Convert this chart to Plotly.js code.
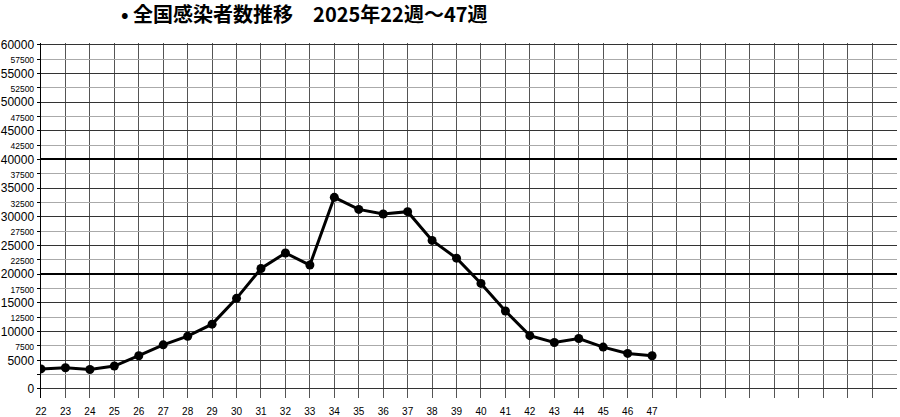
<!DOCTYPE html>
<html>
<head>
<meta charset="utf-8">
<script src="https://cdn.plot.ly/plotly-3.0.1.min.js"></script>
<style>html,body{margin:0;padding:0;background:#fff;}#chart{width:900px;height:417px;}</style>
</head>
<body>
<div id="chart"></div>
<script>
// ---- data ----
const weeks = [22,23,24,25,26,27,28,29,30,31,32,33,34,35,36,37,38,39,40,41,42,43,44,45,46,47];
const cases = [3500,3700,3400,4000,5800,7700,9200,11300,15800,21000,23700,21600,33400,31300,30500,30900,25900,22800,18400,13600,9300,8100,8800,7300,6200,5800];
const gridWeeks = [22,23,24,25,26,27,28,29,30,31,32,33,34,35,36,37,38,39,40,41,42,43,44,45,46,47,48,49,50,51,52,53,54,55,56,57];
const yTickVals = [0,2500,5000,7500,10000,12500,15000,17500,20000,22500,25000,27500,30000,32500,35000,37500,40000,42500,45000,47500,50000,52500,55000,57500,60000];
const yMajorVals = [0,5000,10000,15000,20000,25000,30000,35000,40000,45000,50000,55000,60000];
const yHeavyVals = [20000,40000];
const unlabeledVals = [2500];
const titleText = '• 全国感染者数推移　2025年22週～47週';

// ---- build tick texts ----
const xTickText = gridWeeks.map(w => weeks.includes(w) ? String(w) : '');
const yTickText = yTickVals.map(v => {
  if (unlabeledVals.includes(v)) return '';
  if (v % 5000 === 0) return String(v);
  return '<span style="font-size:8.5px">' + v + '</span>';
});

const yRange = [-1570, 60300];

const traces = [
  {x: [], y: [], yaxis: 'y2', showlegend: false, hoverinfo: 'skip', type: 'scatter'},
  {x: [], y: [], yaxis: 'y3', showlegend: false, hoverinfo: 'skip', type: 'scatter'},
  {
    x: weeks, y: cases, type: 'scatter', mode: 'lines+markers',
    line: {color: '#000', width: 3},
    marker: {color: '#000', size: 9},
    showlegend: false
  }
];

const layout = {
  width: 900, height: 417,
  paper_bgcolor: '#fff', plot_bgcolor: '#fff',
  margin: {l: 41, r: 3, t: 43, b: 19},
  showlegend: false,
  title: {
    text: titleText,
    font: {family: 'Noto Sans CJK JP, sans-serif', size: 20, color: '#000', weight: 'bold'},
    xref: 'container', yref: 'container',
    x: 121/900, xanchor: 'left',
    y: 1 - 15/417, yanchor: 'middle'
  },
  xaxis: {
    range: [22, 57.02],
    tickmode: 'array', tickvals: gridWeeks, ticktext: xTickText,
    showgrid: true, gridcolor: '#555', gridwidth: 1,
    zeroline: false, showline: false, ticks: '',
    ticklabelstandoff: 6,
    tickfont: {family: 'Liberation Sans, Arial, sans-serif', size: 10, color: '#000'},
    fixedrange: true
  },
  yaxis: {
    range: yRange,
    tickmode: 'array', tickvals: yTickVals, ticktext: yTickText,
    showgrid: true, gridcolor: '#aaa', gridwidth: 1,
    zeroline: false,
    showline: true, linecolor: '#000', linewidth: 1.5,
    ticks: 'outside', ticklen: 3, tickcolor: '#000',
    tickfont: {family: 'Liberation Sans, Arial, sans-serif', size: 12, color: '#000'},
    fixedrange: true
  },
  yaxis2: {
    overlaying: 'y', range: yRange,
    tickmode: 'array', tickvals: yMajorVals,
    showticklabels: false, ticks: '',
    showgrid: true, gridcolor: '#333', gridwidth: 1,
    zeroline: false, showline: false, fixedrange: true
  },
  yaxis3: {
    overlaying: 'y', range: yRange,
    tickmode: 'array', tickvals: yHeavyVals,
    showticklabels: false, ticks: '',
    showgrid: true, gridcolor: '#000', gridwidth: 2,
    zeroline: false, showline: false, fixedrange: true
  }
};

Plotly.newPlot('chart', traces, layout, {displayModeBar: false, staticPlot: true});
</script>
</body>
</html>
